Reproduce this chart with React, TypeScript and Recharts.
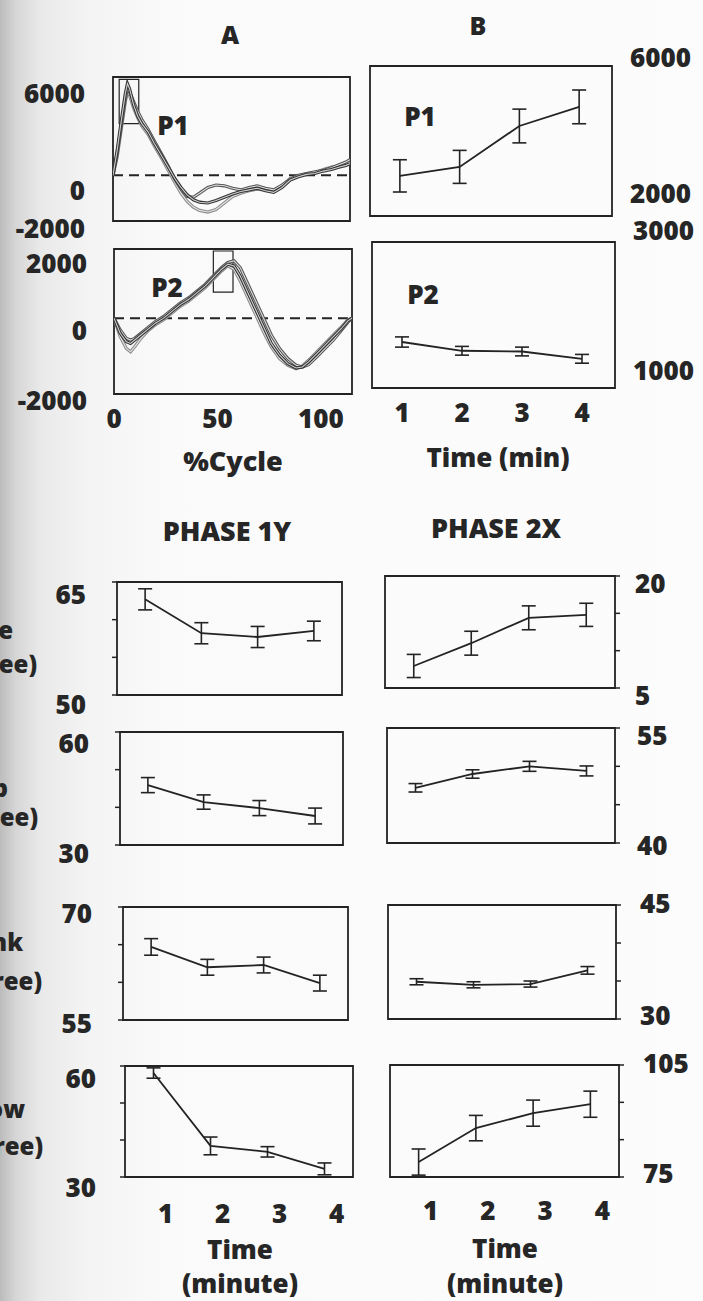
import React from "react";
import {
  LineChart,
  Line,
  XAxis,
  YAxis,
  ErrorBar,
  ReferenceLine,
  ReferenceArea,
} from "recharts";

// ---- data -------------------------------------------------------------

// %Cycle force traces, three trials each
const p1Cycle = [0, 2, 4, 6, 7, 8, 10, 12, 14, 17, 20, 24, 27, 30, 33, 36, 39, 42, 46, 50, 54, 58, 62, 66, 70, 74, 78, 82, 86, 90, 94, 98, 102, 106, 110, 113, 115];
const p1TrialA = [0, 1500, 3300, 5000, 5600, 5300, 4300, 3600, 3150, 2650, 1950, 1100, 450, -200, -750, -1200, -1500, -1650, -1700, -1550, -1350, -1150, -1000, -900, -800, -950, -1050, -750, -300, -100, 50, 100, 250, 350, 500, 600, 700];
const p1TrialB = [0, 1300, 3000, 4700, 5300, 5100, 4500, 3900, 3400, 2800, 2100, 1200, 500, -250, -850, -1300, -1350, -1100, -750, -600, -650, -800, -900, -750, -650, -800, -900, -600, -250, 0, 100, 200, 300, 450, 650, 800, 950];
const p1TrialC = [0, 1100, 2800, 4500, 5100, 4900, 4100, 3500, 3000, 2500, 1800, 950, 250, -450, -1100, -1600, -1950, -2150, -2250, -2100, -1700, -1300, -1100, -950, -850, -900, -1000, -650, -200, -50, 100, 150, 350, 500, 550, 700, 800];

const p2Cycle = [0, 3, 6, 8, 10, 13, 16, 20, 24, 28, 32, 36, 40, 44, 48, 52, 55, 58, 61, 64, 67, 70, 73, 76, 80, 84, 88, 91, 94, 98, 102, 106, 110, 113, 115];
const p2TrialA = [0, -450, -700, -750, -650, -500, -350, -150, 0, 200, 400, 550, 750, 950, 1200, 1450, 1600, 1550, 1250, 850, 450, 50, -350, -750, -1100, -1350, -1480, -1450, -1300, -1050, -800, -550, -300, -80, 0];
const p2TrialB = [0, -350, -600, -650, -600, -450, -300, -100, 50, 250, 450, 600, 800, 1000, 1250, 1500, 1650, 1700, 1500, 1100, 700, 300, -100, -500, -900, -1200, -1400, -1450, -1380, -1150, -900, -650, -350, -120, 0];
const p2TrialC = [0, -550, -900, -1000, -850, -600, -400, -200, -50, 150, 350, 500, 700, 900, 1150, 1400, 1550, 1450, 1100, 700, 300, -100, -500, -850, -1200, -1400, -1500, -1420, -1250, -1000, -750, -500, -250, -50, 0];

// peak windows marked on the traces
const p1Window = { x1: 3, x2: 12.5, y1: 3150, y2: 5850 };
const p2Window = { x1: 48, x2: 57.5, y1: 770, y2: 1990 };

// peak values over time (min)
const minutes = [1, 2, 3, 4];
const peakP1 = [3070, 3310, 4400, 4910];
const peakP1Err = [430, 440, 450, 450];
const peakP2 = [1630, 1510, 1500, 1400];
const peakP2Err = [70, 60, 60, 60];

// phase 1Y angles (degree)
const y1Angle1 = [62.7, 58.2, 57.7, 58.5];
const y1Angle1Err = [1.4, 1.4, 1.4, 1.3];
const y1Angle2 = [45.9, 41.4, 39.8, 37.7];
const y1Angle2Err = [2.0, 1.9, 2.0, 2.1];
const y1Angle3 = [64.7, 62.0, 62.3, 59.9];
const y1Angle3Err = [1.1, 1.05, 1.05, 1.05];
const y1Angle4 = [58.1, 38.4, 36.8, 32.2];
const y1Angle4Err = [1.4, 2.4, 1.4, 1.6];

// phase 2X angles (degree)
const x2Angle1 = [7.95, 11.0, 14.4, 14.8];
const x2Angle1Err = [1.55, 1.6, 1.6, 1.55];
const x2Angle2 = [47.2, 49.0, 50.0, 49.4];
const x2Angle2Err = [0.55, 0.55, 0.65, 0.65];
const x2Angle3 = [34.9, 34.5, 34.6, 36.4];
const x2Angle3Err = [0.4, 0.4, 0.4, 0.5];
const x2Angle4 = [79.0, 88.1, 92.1, 94.5];
const x2Angle4Err = [3.5, 3.4, 3.5, 3.5];

// ---- helpers ----------------------------------------------------------

const FONT = "'Open Sans', 'DejaVu Sans', sans-serif";
const INK = "#232323";
const TEXT = "#262626";
const WEIGHT = 800;
const PAD = 100;

const traceRows = (xs: number[], a: number[], b: number[], c: number[]) =>
  xs.map((x, i) => ({ x, a: a[i], b: b[i], c: c[i] }));

const timeRows = (v: number[], e: number[]) =>
  minutes.map((m, i) => ({ x: m, v: v[i], e: e[i] }));

type Label = { v: number; dy: number };

interface PanelProps {
  box: [number, number, number, number]; // left, top, right, bottom on the page
  xDomain: [number, number];
  yDomain: [number, number];
  yTicks: number[];
  yLabels: Label[];
  side: "left" | "right";
  labelEdge: number; // page x where the tick text lines up
  tickMarks?: boolean;
  xLabels?: number[];
  xLabelY?: number;
  xLabelDx?: number;
  bottomMarks?: number[];
  data: any[];
  children: React.ReactNode;
}

function Panel(p: PanelProps) {
  const [l, t, r, b] = p.box;
  const w = r - l;
  const h = b - t;
  const originX = l - PAD;
  const originY = t - PAD;

  // axes take 1px each (a 0px axis is not drawn), so the margins give it back
  const bottomAxes = (p.xLabels ? 1 : 0) + (p.bottomMarks ? 1 : 0);
  const margin = {
    top: PAD,
    bottom: PAD - bottomAxes,
    left: p.side === "left" ? PAD - 1 : PAD,
    right: p.side === "right" ? PAD - 1 : PAD,
  };

  const yTick = (props: any) => {
    const lab = p.yLabels.find((q) => q.v === props.payload.value);
    if (!lab) return <g />;
    return (
      <text
        x={p.labelEdge - originX}
        y={props.y + lab.dy}
        textAnchor={p.side === "left" ? "end" : "start"}
        dominantBaseline="central"
        fontFamily={FONT}
        fontWeight={WEIGHT}
        fontSize={26}
        fill={TEXT}
      >
        {lab.v}
      </text>
    );
  };

  const xTick = (props: any) => (
    <text
      x={props.x + (p.xLabelDx ?? 0)}
      y={(p.xLabelY ?? 0) - originY}
      textAnchor="middle"
      dominantBaseline="central"
      fontFamily={FONT}
      fontWeight={WEIGHT}
      fontSize={26}
      fill={TEXT}
    >
      {props.payload.value}
    </text>
  );

  return (
    <div style={{ position: "absolute", left: originX, top: originY }}>
      <LineChart
        width={w + 2 * PAD}
        height={h + 2 * PAD}
        data={p.data}
        margin={margin}
      >
        <XAxis
          type="number"
          dataKey="x"
          domain={p.xDomain}
          allowDataOverflow
          hide={!p.xLabels}
          ticks={p.xLabels}
          interval={0}
          tick={xTick}
          tickLine={false}
          axisLine={false}
          height={1}
        />
        {p.bottomMarks && (
          <XAxis
            xAxisId="marks"
            type="number"
            dataKey="x"
            domain={p.xDomain}
            allowDataOverflow
            ticks={p.bottomMarks}
            interval={0}
            tick={false}
            tickSize={5}
            tickLine={{ stroke: INK, strokeWidth: 1.5 }}
            axisLine={false}
            height={1}
          />
        )}
        <YAxis
          type="number"
          orientation={p.side}
          domain={p.yDomain}
          allowDataOverflow
          ticks={p.yTicks}
          interval={0}
          tick={yTick}
          tickSize={5}
          tickLine={p.tickMarks ? { stroke: INK, strokeWidth: 1.5 } : false}
          axisLine={false}
          width={1}
        />
        <ReferenceArea
          x1={p.xDomain[0]}
          x2={p.xDomain[1]}
          y1={p.yDomain[0]}
          y2={p.yDomain[1]}
          fill="none"
          fillOpacity={0}
          stroke={INK}
          strokeWidth={1.8}
        />
        {p.children}
      </LineChart>
    </div>
  );
}

// one trace drawn as a dark outline with a pale core
function traceLines(key: string, outer: string, inner: string) {
  return [
    <Line
      key={key + "-o"}
      dataKey={key}
      stroke={outer}
      strokeWidth={3.2}
      dot={false}
      isAnimationActive={false}
    />,
    <Line
      key={key + "-i"}
      dataKey={key}
      stroke={inner}
      strokeWidth={1.1}
      dot={false}
      isAnimationActive={false}
    />,
  ];
}

function meanLine() {
  return (
    <Line
      dataKey="v"
      stroke={INK}
      strokeWidth={1.8}
      dot={false}
      isAnimationActive={false}
    >
      <ErrorBar
        dataKey="e"
        direction="y"
        width={7}
        stroke={INK}
        strokeWidth={1.6}
        isAnimationActive={false}
      />
    </Line>
  );
}

const Txt = ({
  x,
  y,
  children,
  size = 26,
  anchor = "middle",
}: {
  x: number;
  y: number;
  children: React.ReactNode;
  size?: number;
  anchor?: "start" | "middle" | "end";
}) => (
  <text
    x={x}
    y={y}
    textAnchor={anchor}
    dominantBaseline="central"
    fontFamily={FONT}
    fontWeight={WEIGHT}
    fontSize={size}
    fill={TEXT}
  >
    {children}
  </text>
);

export default function App() {
  const timeX: [number, number] = [0.5, 4.5];

  return (
    <div
      style={{
        position: "absolute",
        left: 0,
        top: 0,
        width: 703,
        height: 1301,
        overflow: "hidden",
        background:
          "linear-gradient(90deg, #bcbcbc 0px, #d6d6d6 16px, #e9e9e9 40px, #f4f4f4 90px, #fafafa 170px, #fcfcfc 100%)",
      }}
    >
      {/* A: force traces over the cycle */}
      <Panel
        box={[113, 77, 350, 221]}
        xDomain={[0, 115]}
        yDomain={[-2800, 6000]}
        yTicks={[-2000, 0, 6000]}
        yLabels={[
          { v: 6000, dy: 16 },
          { v: 0, dy: 15 },
          { v: -2000, dy: 20 },
        ]}
        side="left"
        labelEdge={85}
        data={traceRows(p1Cycle, p1TrialA, p1TrialB, p1TrialC)}
      >
        <ReferenceLine y={0} stroke={INK} strokeWidth={2} strokeDasharray="10 6" />
        <ReferenceArea {...p1Window} fill="none" fillOpacity={0} stroke={INK} strokeWidth={1.2} />
        {traceLines("c", "#8a8a8a", "#e4e4e4")}
        {traceLines("b", "#555555", "#dcdcdc")}
        {traceLines("a", "#333333", "#cfcfcf")}
      </Panel>

      <Panel
        box={[114, 249, 352, 394]}
        xDomain={[0, 115]}
        yDomain={[-2250, 2050]}
        yTicks={[-2000, 0, 2000]}
        yLabels={[
          { v: 2000, dy: 12 },
          { v: 0, dy: 12 },
          { v: -2000, dy: 14 },
        ]}
        side="left"
        labelEdge={87}
        xLabels={[0, 50, 100]}
        xLabelY={418}
        data={traceRows(p2Cycle, p2TrialA, p2TrialB, p2TrialC)}
      >
        <ReferenceLine y={0} stroke={INK} strokeWidth={2} strokeDasharray="10 6" />
        <ReferenceArea {...p2Window} fill="none" fillOpacity={0} stroke={INK} strokeWidth={1.2} />
        {traceLines("c", "#8a8a8a", "#e4e4e4")}
        {traceLines("b", "#555555", "#dcdcdc")}
        {traceLines("a", "#333333", "#cfcfcf")}
      </Panel>

      {/* B: peaks over time */}
      <Panel
        box={[370, 66, 612, 216]}
        xDomain={[0.5, 4.55]}
        yDomain={[2000, 6000]}
        yTicks={[2000, 6000]}
        yLabels={[
          { v: 6000, dy: -9 },
          { v: 2000, dy: -23 },
        ]}
        side="right"
        labelEdge={630}
        data={timeRows(peakP1, peakP1Err)}
      >
        {meanLine()}
      </Panel>

      <Panel
        box={[372, 242, 615, 388]}
        xDomain={[0.5, 4.55]}
        yDomain={[1000, 3000]}
        yTicks={[1000, 3000]}
        yLabels={[
          { v: 3000, dy: -12 },
          { v: 1000, dy: -18 },
        ]}
        side="right"
        labelEdge={633}
        xLabels={minutes}
        xLabelY={412}
        data={timeRows(peakP2, peakP2Err)}
      >
        {meanLine()}
      </Panel>

      {/* PHASE 1Y */}
      <Panel
        box={[117, 582, 342, 695]}
        xDomain={timeX}
        yDomain={[50, 65]}
        yTicks={[50, 55, 60, 65]}
        yLabels={[
          { v: 65, dy: 12 },
          { v: 50, dy: 9 },
        ]}
        side="left"
        labelEdge={86}
        tickMarks
        data={timeRows(y1Angle1, y1Angle1Err)}
      >
        {meanLine()}
      </Panel>

      <Panel
        box={[120, 732, 343, 845]}
        xDomain={timeX}
        yDomain={[30, 60]}
        yTicks={[30, 40, 50, 60]}
        yLabels={[
          { v: 60, dy: 11 },
          { v: 30, dy: 8 },
        ]}
        side="left"
        labelEdge={89}
        tickMarks
        data={timeRows(y1Angle2, y1Angle2Err)}
      >
        {meanLine()}
      </Panel>

      <Panel
        box={[123, 907, 348, 1020]}
        xDomain={timeX}
        yDomain={[55, 70]}
        yTicks={[55, 60, 65, 70]}
        yLabels={[
          { v: 70, dy: 6 },
          { v: 55, dy: 3 },
        ]}
        side="left"
        labelEdge={92}
        tickMarks
        data={timeRows(y1Angle3, y1Angle3Err)}
      >
        {meanLine()}
      </Panel>

      <Panel
        box={[125, 1066, 353, 1177]}
        xDomain={timeX}
        yDomain={[30, 60]}
        yTicks={[30, 40, 50, 60]}
        yLabels={[
          { v: 60, dy: 12 },
          { v: 30, dy: 10 },
        ]}
        side="left"
        labelEdge={96}
        tickMarks
        xLabels={minutes}
        xLabelY={1213}
        xLabelDx={12}
        data={timeRows(y1Angle4, y1Angle4Err)}
      >
        {meanLine()}
      </Panel>

      {/* PHASE 2X */}
      <Panel
        box={[385, 576, 615, 688]}
        xDomain={timeX}
        yDomain={[5, 20]}
        yTicks={[5, 10, 15, 20]}
        yLabels={[
          { v: 20, dy: 7 },
          { v: 5, dy: 7 },
        ]}
        side="right"
        labelEdge={635}
        tickMarks
        data={timeRows(x2Angle1, x2Angle1Err)}
      >
        {meanLine()}
      </Panel>

      <Panel
        box={[387, 728, 615, 843]}
        xDomain={timeX}
        yDomain={[40, 55]}
        yTicks={[40, 45, 50, 55]}
        yLabels={[
          { v: 55, dy: 7 },
          { v: 40, dy: 2 },
        ]}
        side="right"
        labelEdge={637}
        tickMarks
        data={timeRows(x2Angle2, x2Angle2Err)}
      >
        {meanLine()}
      </Panel>

      <Panel
        box={[388, 905, 616, 1019]}
        xDomain={timeX}
        yDomain={[30, 45]}
        yTicks={[30, 35, 40, 45]}
        yLabels={[
          { v: 45, dy: -2 },
          { v: 30, dy: -4 },
        ]}
        side="right"
        labelEdge={640}
        tickMarks
        data={timeRows(x2Angle3, x2Angle3Err)}
      >
        {meanLine()}
      </Panel>

      <Panel
        box={[390, 1065, 619, 1177]}
        xDomain={timeX}
        yDomain={[75, 105]}
        yTicks={[75, 85, 95, 105]}
        yLabels={[
          { v: 105, dy: -2 },
          { v: 75, dy: -4 },
        ]}
        side="right"
        labelEdge={643}
        tickMarks
        xLabels={minutes}
        xLabelY={1210}
        xLabelDx={12}
        bottomMarks={[0.5, 1.5, 2.5, 3.5, 4.5]}
        data={timeRows(x2Angle4, x2Angle4Err)}
      >
        {meanLine()}
      </Panel>

      {/* titles and axis names */}
      <svg
        width={703}
        height={1301}
        style={{ position: "absolute", left: 0, top: 0, pointerEvents: "none" }}
      >
        <Txt x={230} y={34} size={25}>A</Txt>
        <Txt x={478} y={25} size={25}>B</Txt>
        <Txt x={173} y={125}>P1</Txt>
        <Txt x={167} y={287}>P2</Txt>
        <Txt x={420} y={116}>P1</Txt>
        <Txt x={423} y={294}>P2</Txt>
        <Txt x={233} y={460} size={27}>%Cycle</Txt>
        <Txt x={498} y={457}>Time (min)</Txt>
        <Txt x={227} y={530} size={27}>PHASE 1Y</Txt>
        <Txt x={496} y={527} size={27}>PHASE 2X</Txt>
        <Txt x={240} y={1249}>Time</Txt>
        <Txt x={240} y={1283}>(minute)</Txt>
        <Txt x={505} y={1248}>Time</Txt>
        <Txt x={505} y={1283}>(minute)</Txt>
        {/* axis names running off the left edge of the page */}
        <Txt x={13} y={629} size={24} anchor="end">e</Txt>
        <Txt x={37} y={663} size={24} anchor="end">ee)</Txt>
        <Txt x={8} y={787} size={24} anchor="end">p</Txt>
        <Txt x={38} y={816} size={24} anchor="end">ee)</Txt>
        <Txt x={23} y={941} size={24} anchor="end">nk</Txt>
        <Txt x={42} y={980} size={24} anchor="end">ree)</Txt>
        <Txt x={25} y={1108} size={24} anchor="end">ow</Txt>
        <Txt x={43} y={1145} size={24} anchor="end">ree)</Txt>
      </svg>
    </div>
  );
}
